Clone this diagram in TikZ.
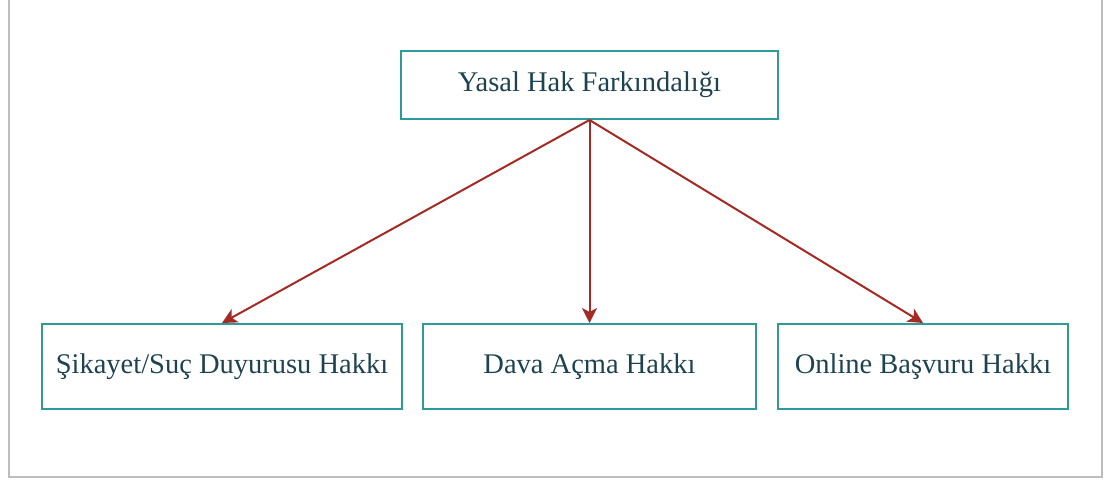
\documentclass[tikz,border=0pt]{standalone}
\usepackage{fontspec}
\setmainfont{Liberation Serif}
\usetikzlibrary{arrows.meta}
\definecolor{boxline}{HTML}{2E9A9A}
\definecolor{boxtext}{HTML}{1E4350}
\definecolor{arrowred}{HTML}{A52A24}
\definecolor{frameline}{HTML}{BDBDBD}

\begin{document}
\begin{tikzpicture}[x=1pt,y=-1pt,
  hak/.style={rectangle,draw=boxline,line width=2pt,text=boxtext,inner sep=0pt,
    minimum height=85pt,font=\fontsize{28.5}{34}\selectfont},
  link/.style={draw=arrowred,line width=2pt,-{Stealth[length=15pt,width=15pt,inset=4pt]}}]
\useasboundingbox (0,0) rectangle (1105,481);
\draw[frameline,line width=2pt] (9,-5) -- (9,477) -- (1102,477) -- (1102,-5);

\node[hak,minimum width=377pt,minimum height=68pt] at (589.5,85)	(top) {Yasal Hak Farkındalığı};
\node[hak,minimum width=360pt] at (222,366.5)	(sikayet) {Şikayet/Suç Duyurusu Hakkı};
\node[hak,minimum width=333pt] at (589.5,366.5)	(dava) {Dava Açma Hakkı};
\node[hak,minimum width=290pt] at (923,366.5)	(online) {Online Başvuru Hakkı};

\draw[link] (top.south) -- (sikayet.north);
\draw[link] (top.south) -- (dava.north);
\draw[link] (top.south) -- (online.north);
\end{tikzpicture}
\end{document}
